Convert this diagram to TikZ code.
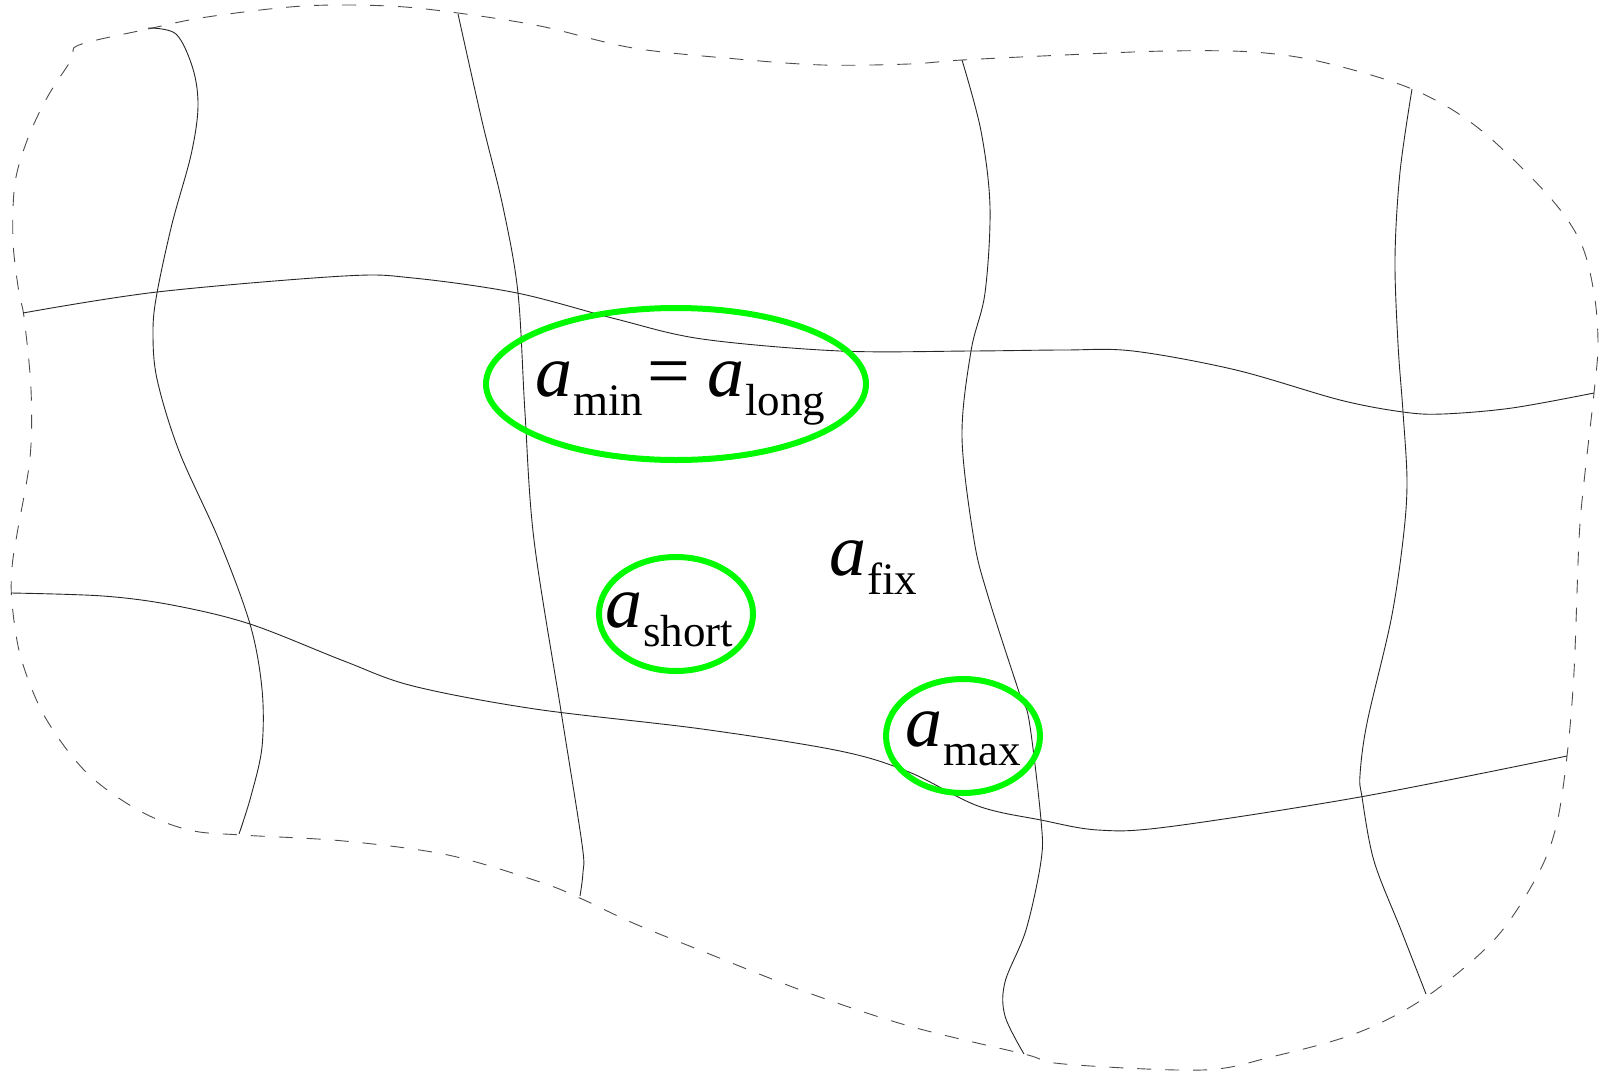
\documentclass[tikz,border=0pt]{standalone}
\usepackage{fontspec}
\setmainfont{Liberation Serif}
\usetikzlibrary{shapes.geometric}
\definecolor{ringgreen}{RGB}{0,250,0}
\newcommand{\bigA}{{\fontsize{74}{80}\selectfont\itshape a}}
\newcommand{\subT}[1]{\hspace{1pt}\raisebox{-19pt}{\fontsize{45}{50}\selectfont #1}}
\newcommand{\bigEq}{{\fontsize{76}{80}\selectfont =}}
\begin{document}
\begin{tikzpicture}[x=1pt,y=-1pt,
  gridline/.style={line width=0.9pt, black!85},
  border/.style={line width=0.9pt, black!70, dash pattern=on 14pt off 14pt},
  ring/.style={draw=ringgreen, line width=6pt, ellipse, inner sep=0pt},
  lab/.style={inner sep=0pt, anchor=base west}]
\useasboundingbox (0,0) rectangle (1604,1074);

% dashed outer boundary
\draw[border] plot[smooth cycle, tension=0.55] coordinates {
 (79,45) (148,29) (207,17) (303,6) (389,6) (458,13) (540,26) (633,48) (737,59)
 (823,65) (909,64) (962,60) (1064,55) (1167,51) (1253,52) (1322,62) (1412,89)
 (1477,127) (1546,193) (1580,241) (1594,293) (1598,344) (1594,393) (1584,482)
 (1579,540) (1574,672) (1567,756) (1556,827) (1536,878) (1494,940) (1426,997)
 (1357,1033) (1271,1057) (1202,1070) (1064,1064) (1024,1054) (909,1026)
 (806,992) (702,951) (633,923) (582,899) (540,882) (448,855) (344,841)
 (241,835) (189,830) (138,810) (86,772) (45,717) (21,658) (12,603) (12,568)
 (17,534) (30,458) (31,389) (24,317) (19,293) (13,241) (15,183) (28,138)
 (48,96) (72,59)};

% grid lines (roughly vertical)
\draw[gridline] plot[smooth, tension=0.55] coordinates {
 (148,28) (176,34) (193,69) (198,107) (191,155) (172,224) (157,293) (153,331)
 (157,379) (179,451) (219,540) (250,624) (262,689) (262,747) (251,796) (239,834)};
\draw[gridline] plot[smooth, tension=0.55] coordinates {
 (458,14) (482,121) (503,207) (518,293) (525,413) (534,540) (561,711)
 (582,844) (583,872) (580,896)};
\draw[gridline] plot[smooth, tension=0.55] coordinates {
 (962,60) (981,131) (990,207) (985,293) (971,351) (962,437) (974,540)
 (988,596) (1019,692) (1029,720) (1041,820) (1041,861) (1026,930)
 (1005,982) (1005,1016) (1024,1054)};
\draw[gridline] plot[smooth, tension=0.55] coordinates {
 (1412,89) (1400,172) (1395,258) (1398,344) (1403,412) (1407,482) (1403,540)
 (1391,620) (1367,723) (1360,775) (1362,797) (1374,861) (1401,930) (1426,994)};

% grid lines (roughly horizontal)
\draw[gridline] plot[smooth, tension=0.55] coordinates {
 (23,313) (157,292) (344,276) (413,278) (517,293) (616,319) (702,339)
 (840,351) (971,351) (1064,350) (1133,351) (1236,370) (1340,400) (1403,412)
 (1443,414) (1512,408) (1594,393)};
\draw[gridline] plot[smooth, tension=0.55] coordinates {
 (11,593) (103,596) (172,605) (250,624) (344,661) (413,686) (535,709)
 (702,729) (840,751) (909,772) (978,806) (1041,820) (1098,830) (1167,827)
 (1360,797) (1567,756)};

% green rings
\node[ring, minimum width=380pt, minimum height=152pt] (ringlong) at (676,384) {};
\node[ring, minimum width=154pt, minimum height=114pt] (ringshort) at (676,614) {};
\node[ring, minimum width=154pt, minimum height=114pt] (ringmax) at (963,736) {};

% labels
\node[lab] (lminlong) at (535,396) {\bigA\subT{min}\hspace{4pt}\bigEq\hspace{17pt}\bigA\subT{long}};
\node[lab] (lshort) at (605,627) {\bigA\subT{short}};
\node[lab] (lfix) at (829,575) {\bigA\subT{fix}};
\node[lab] (lmax) at (905,746) {\bigA\subT{max}};
\end{tikzpicture}
\end{document}
